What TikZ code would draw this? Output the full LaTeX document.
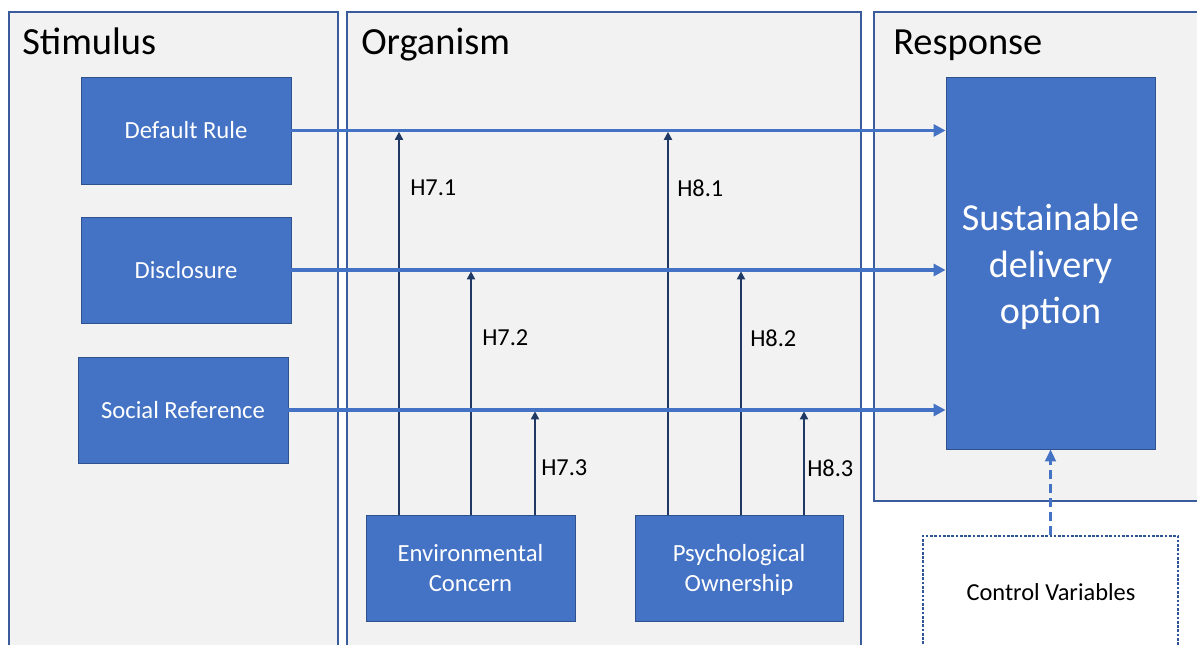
\documentclass[tikz,border=0pt]{standalone}
\usepackage{fontspec}
\setmainfont{Carlito}
\usetikzlibrary{arrows.meta}
\definecolor{panelfill}{HTML}{F2F2F2}
\definecolor{panelline}{HTML}{3A5C9C}
\definecolor{boxfill}{HTML}{4472C4}
\definecolor{boxline}{HTML}{2F528F}
\definecolor{modline}{HTML}{1F3864}
\definecolor{cvline}{HTML}{2F5597}

\begin{document}
\begin{tikzpicture}[x=0.75pt,y=-0.75pt,
  panel/.style={draw=panelline,fill=panelfill,line width=1.1pt},
  title/.style={anchor=base west,inner sep=0pt,font=\fontsize{28.8}{34}\selectfont},
  construct/.style={draw=boxline,fill=boxfill,line width=0.6pt,text=white,
    align=center,inner sep=0pt,font=\fontsize{18.5}{22.5}\selectfont},
  effect/.style={draw=boxfill,line width=2.3pt,-{Triangle[length=9pt,width=9pt]}},
  moder/.style={draw=modline,line width=1.4pt,-{Triangle[length=6pt,width=6pt]}},
  hyp/.style={anchor=west,inner sep=0pt,font=\fontsize{18.3}{22}\selectfont},
  ctrl/.style={draw=boxfill,line width=2.2pt,dash pattern=on 7pt off 3.5pt,
    -{Triangle[length=9pt,width=8pt]}},
]
\useasboundingbox (0,0) rectangle (1197,644);
\begin{scope}
\clip (0,0) rectangle (1197,644);

% three panels of the S-O-R framework
\draw[panel] (9,12) rectangle (338,680);
\draw[panel] (347,12) rectangle (861,680);
\draw[panel] (874,12) rectangle (1230,501);

\node[title] (tS) at (22,54) {Stimulus};
\node[title] (tO) at (361,54) {Organism};
\node[title] (tR) at (893,54) {Response};

% stimulus constructs
\node[construct,minimum width=157.5pt,minimum height=80.25pt] (dr) at (186,130.5) {Default Rule};
\node[construct,minimum width=157.5pt,minimum height=79.5pt] (dc) at (186,270) {Disclosure};
\node[construct,minimum width=157.5pt,minimum height=79.5pt] (sr) at (183,410) {Social Reference};

% response construct
\node[construct,minimum width=156.75pt,minimum height=279pt] (sus) at (1050.5,263) {};
\node[text=white,align=center,inner sep=0pt,
  font=\fontsize{28.6}{35}\selectfont] (sust) at (1050.5,267) {Sustainable\\delivery\\option};

% organism constructs
\node[construct,minimum width=156.75pt,minimum height=79.5pt] (env) at (470.5,568) {Environmental\\Concern};
\node[construct,minimum width=156pt,minimum height=79.5pt] (psy) at (739,568) {};
\node[text=white,align=center,inner sep=0pt,
  font=\fontsize{18.5}{22.5}\selectfont] (psyt) at (739,570) {Psychological\\Ownership};

% control variables
\node[draw=cvline,fill=white,line width=0.8pt,dash pattern=on 2pt off 1.2pt,
  minimum width=191.25pt,minimum height=108pt,inner sep=0pt] (cv) at (1050.5,608) {};
\node[inner sep=0pt,font=\fontsize{18.3}{22}\selectfont] (cvt) at (1051,592) {Control Variables};

% moderating paths
\coordinate (x71) at (399,0);
\coordinate (x72) at (471,0);
\coordinate (x73) at (535,0);
\coordinate (x81) at (668,0);
\coordinate (x82) at (741,0);
\coordinate (x83) at (804,0);

\draw[moder] (x71 |- env.north) -- ([yshift=-1pt]x71 |- dr.east);
\draw[moder] (x72 |- env.north) -- ([yshift=-1pt]x72 |- dc.east);
\draw[moder] (x73 |- env.north) -- ([yshift=-1pt]x73 |- sr.east);
\draw[moder] (x81 |- psy.north) -- ([yshift=-1pt]x81 |- dr.east);
\draw[moder] (x82 |- psy.north) -- ([yshift=-1pt]x82 |- dc.east);
\draw[moder] (x83 |- psy.north) -- ([yshift=-1pt]x83 |- sr.east);

% direct effects
\draw[effect] (dr.east) -- (dr.east -| sus.west);
\draw[effect] (dc.east) -- (dc.east -| sus.west);
\draw[effect] (sr.east) -- (sr.east -| sus.west);

% control path
\draw[ctrl] (cv.north) -- (sus.south);

% hypothesis labels
\node[hyp] (h71) at (410,188) {H7.1};
\node[hyp] (h72) at (482,338) {H7.2};
\node[hyp] (h73) at (541,468) {H7.3};
\node[hyp] (h81) at (677,188) {H8.1};
\node[hyp] (h82) at (750,338) {H8.2};
\node[hyp] (h83) at (807,468) {H8.3};
\end{scope}
\end{tikzpicture}
\end{document}
